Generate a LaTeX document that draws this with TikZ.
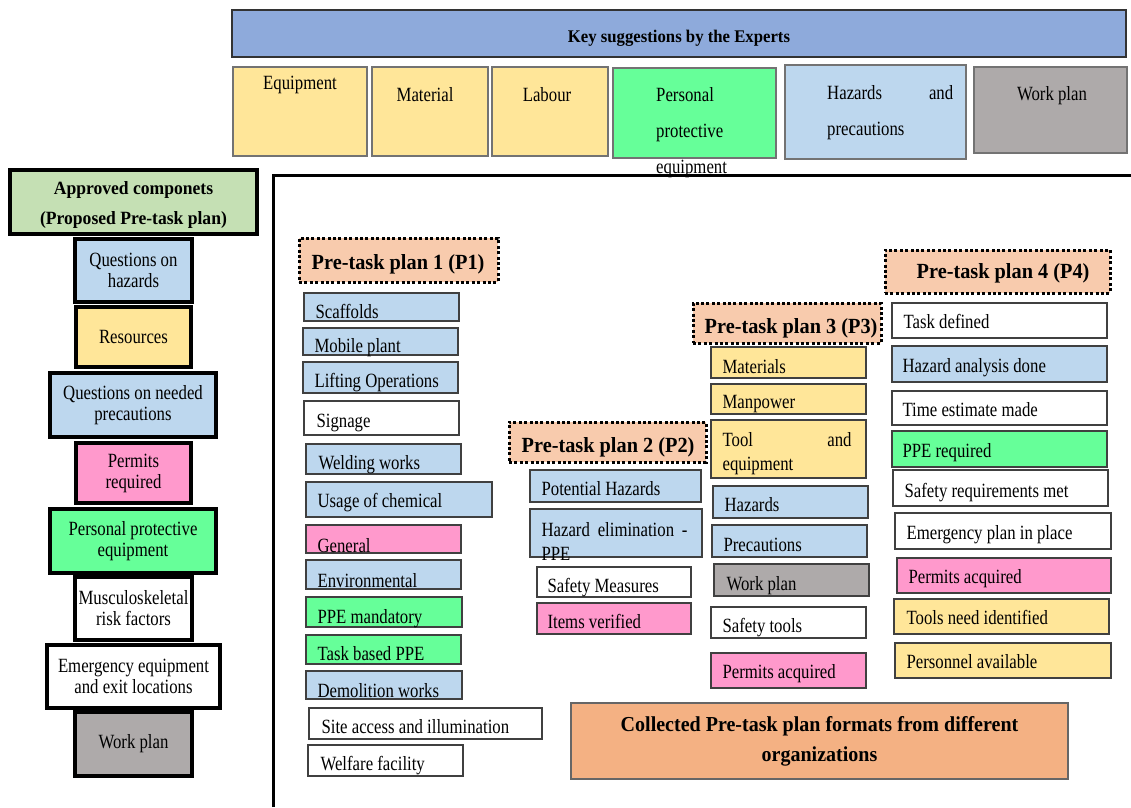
\documentclass[tikz,border=0pt]{standalone}
\usepackage{fontspec}
\setmainfont{Liberation Serif}[FakeStretch=0.83]
\newfontfamily\hdfont{Liberation Serif}[FakeStretch=0.94]
\usetikzlibrary{fit}
\definecolor{keyblue}{HTML}{8EAADB}
\definecolor{ylw}{HTML}{FFE699}
\definecolor{ppegreen}{HTML}{66FF99}
\definecolor{lblue}{HTML}{BDD7EE}
\definecolor{wpgray}{HTML}{AEAAAA}
\definecolor{lgreen}{HTML}{C5E0B4}
\definecolor{pinkc}{HTML}{FF99CC}
\definecolor{peach}{HTML}{F8CBAD}
\definecolor{orangec}{HTML}{F4B183}
\tikzset{
  cell/.style={draw=black!75, line width=1.3pt, inner sep=0pt},
  topbox/.style={draw=black!55, line width=1.5pt, inner sep=0pt},
  lbox/.style={draw=black, line width=4pt, inner sep=0pt},
  ltxt/.style={inner sep=0pt, align=center, font=\fontsize{20.2}{21}\selectfont},
  txt/.style={inner sep=0pt, font=\fontsize{20.2}{21}\selectfont},
  plan/.style={draw=black, line width=3pt, dash pattern=on 3pt off 2.4pt,
    fill=peach, inner sep=0pt},
  plantxt/.style={inner sep=0pt, font=\hdfont\bfseries\fontsize{21.6}{24}\selectfont},
}
\newcommand\cellbox[9]{%
  \node[cell, fill=#6, fit={(#2,#3) (#4,#5)}] (#1) {};
  \node[txt, anchor=base west] (#1-t) at ([xshift=#7pt, yshift=#8pt]#1.south west) {#9};}
\newcommand\planbox[8]{%
  \node[plan, fit={(#2,#3) (#4,#5)}] (#1) {};
  \node[plantxt, anchor=base west] (#1-t) at ([xshift=#6pt, yshift=#7pt]#1.south west) {#8};}
\newcommand\leftbox[6]{%
  \node[lbox, fill=#6, fit={(#2,#3) (#4,#5)}] (#1) {};}
\begin{document}
\begin{tikzpicture}[x=1pt,y=-1pt]
\fill[white] (0,0) rectangle (1131,807);
\useasboundingbox (0,0) rectangle (1131,807);

% ---------- top: key suggestions ----------
\node[topbox, draw=black!80, fill=keyblue, fit={(232,10) (1126,57)}] (key) {};
\node[inner sep=0pt, font=\hdfont\bfseries\fontsize{17.8}{20}\selectfont] (key-t) at ([yshift=-5pt]key.center) {Key suggestions by the Experts};

\node[topbox, fill=ylw, fit={(233,67) (367,156)}] (k1) {};
\node[txt, anchor=base] (k1-t) at (300,89) {Equipment};
\node[topbox, fill=ylw, fit={(372,67) (488,156)}] (k2) {};
\node[txt, anchor=base] (k2-t) at (425,101) {Material};
\node[topbox, fill=ylw, fit={(492,67) (608,156)}] (k3) {};
\node[txt, anchor=base] (k3-t) at (547,101) {Labour};
\node[topbox, fill=ppegreen, fit={(613,68) (776,158)}] (k4) {};
\node[txt, anchor=base west] (k4-a) at (656,101) {Personal};
\node[txt, anchor=base west] (k4-b) at (656,137) {protective};
\node[txt, anchor=base west] (k4-c) at (656,173) {equipment};
\node[topbox, fill=lblue, fit={(785,65) (966,159)}] (k5) {};
\node[txt, anchor=base west] (k5-a) at (827,99) {\makebox[126pt][s]{Hazards and}};
\node[txt, anchor=base west] (k5-b) at (827,135) {precautions};
\node[topbox, fill=wpgray, fit={(974,67) (1127,153)}] (k6) {};
\node[txt, anchor=base] (k6-t) at (1052,100) {Work plan};

% ---------- big frame ----------
\coordinate (fbl) at (273,807);
\coordinate (ftl) at (273,175);
\coordinate (ftr) at (1131,175);
\draw[line width=3pt] (fbl) -- (ftl) -- (ftr);

% ---------- left column ----------
\leftbox{ap}{10}{170}{257}{234}{lgreen}
\node[ltxt, font=\hdfont\bfseries\fontsize{18.7}{30}\selectfont] (ap-t) at ([yshift=-3pt]ap.center) {Approved componets\\(Proposed Pre-task plan)};
\leftbox{l1}{75}{239}{192}{302}{lblue}
\node[ltxt] (l1-t) at (l1.center) {Questions on\\hazards};
\leftbox{l2}{76}{307}{191}{367}{ylw}
\node[ltxt] (l2-t) at (l2.center) {Resources};
\leftbox{l3}{50}{373}{216}{437}{lblue}
\node[ltxt] (l3-t) at (l3.center) {Questions on needed\\precautions};
\leftbox{l4}{76}{443}{191}{503}{pinkc}
\node[ltxt] (l4-t) at (l4.center) {Permits\\required};
\leftbox{l5}{50}{509}{216}{573}{ppegreen}
\node[ltxt] (l5-t) at (l5.center) {Personal protective\\equipment};
\leftbox{l6}{75}{577}{192}{640}{white}
\node[ltxt] (l6-t) at (l6.center) {Musculoskeletal\\risk factors};
\leftbox{l7}{47}{645}{220}{708}{white}
\node[ltxt] (l7-t) at (l7.center) {Emergency equipment\\and exit locations};
\leftbox{l8}{75}{712}{192}{776}{wpgray}
\node[ltxt] (l8-t) at (l8.center) {Work plan};

% ---------- Pre-task plan 1 ----------
\planbox{p1}{299}{238}{498}{282}{14}{14}{Pre-task plan 1 (P1)}
\cellbox{a1}{304}{293}{459}{321}{lblue}{12}{3}{Scaffolds}
\cellbox{a2}{303}{328}{458}{355}{lblue}{12}{3}{Mobile plant}
\cellbox{a3}{303}{362}{458}{393}{lblue}{12}{6}{Lifting Operations}
\cellbox{a4}{304}{401}{459}{435}{white}{13}{8}{Signage}
\cellbox{a5}{306}{444}{461}{474}{lblue}{13}{5}{Welding works}
\cellbox{a6}{306}{482}{492}{517}{lblue}{12}{10}{Usage of chemical}
\cellbox{a7}{306}{525}{461}{553}{pinkc}{12}{1}{General}
\cellbox{a8}{306}{560}{461}{589}{lblue}{12}{2}{Environmental}
\cellbox{a9}{306}{597}{462}{627}{ppegreen}{12}{4}{PPE mandatory}
\cellbox{a10}{306}{635}{461}{664}{ppegreen}{12}{4}{Task based PPE}
\cellbox{a11}{306}{671}{462}{699}{lblue}{12}{2}{Demolition works}
\cellbox{a12}{309}{708}{542}{739}{white}{13}{6}{Site access and illumination}
\cellbox{a13}{308}{745}{463}{776}{white}{13}{6}{Welfare facility}

% ---------- Pre-task plan 2 ----------
\planbox{p2}{509}{422}{706}{462}{14}{11}{Pre-task plan 2 (P2)}
\cellbox{b1}{530}{470}{701}{502}{lblue}{12}{7}{Potential Hazards}
\cellbox{b2}{530}{509}{702}{557}{lblue}{12}{21}{\makebox[146pt][s]{Hazard elimination -}}
\node[txt, anchor=base west] (b2-u) at ([xshift=12pt, yshift=-3pt]b2.south west) {PPE};
\cellbox{b3}{537}{567}{691}{597}{white}{11}{5}{Safety Measures}
\cellbox{b4}{537}{603}{691}{634}{pinkc}{11}{6}{Items verified}

% ---------- Pre-task plan 3 ----------
\planbox{p3}{693}{303}{881}{343}{13}{11}{Pre-task plan 3 (P3)}
\cellbox{c1}{711}{347}{866}{378}{ylw}{12}{5}{Materials}
\cellbox{c2}{711}{384}{866}{414}{ylw}{12}{6}{Manpower}
\cellbox{c3}{711}{420}{866}{478}{ylw}{12}{32}{\makebox[129pt][s]{Tool and}}
\node[txt, anchor=base west] (c3-u) at ([xshift=12pt, yshift=8pt]c3.south west) {equipment};
\cellbox{c4}{713}{486}{868}{518}{lblue}{12}{7}{Hazards}
\cellbox{c5}{712}{525}{867}{557}{lblue}{12}{6}{Precautions}
\cellbox{c6}{714}{564}{869}{596}{wpgray}{13}{6}{Work plan}
\cellbox{c7}{711}{607}{866}{638}{white}{12}{6}{Safety tools}
\cellbox{c8}{711}{653}{866}{688}{pinkc}{12}{10}{Permits acquired}

% ---------- Pre-task plan 4 ----------
\planbox{p4}{885}{250}{1110}{293}{33}{16}{Pre-task plan 4 (P4)}
\cellbox{d1}{892}{303}{1107}{338}{white}{12}{10}{Task defined}
\cellbox{d2}{892}{346}{1107}{382}{lblue}{11}{10}{Hazard analysis done}
\cellbox{d3}{892}{391}{1107}{425}{white}{11}{9}{Time estimate made}
\cellbox{d4}{892}{431}{1107}{467}{ppegreen}{11}{10}{PPE required}
\cellbox{d5}{893}{470}{1108}{506}{white}{12}{9}{Safety requirements met}
\cellbox{d6}{895}{513}{1111}{549}{white}{12}{10}{Emergency plan in place}
\cellbox{d7}{897}{558}{1111}{593}{pinkc}{12}{10}{Permits acquired}
\cellbox{d8}{894}{599}{1109}{634}{ylw}{13}{10}{Tools need identified}
\cellbox{d9}{895}{643}{1111}{678}{ylw}{12}{10}{Personnel available}

% ---------- bottom box ----------
\node[cell, draw=black!60, fill=orangec, fit={(571,703) (1068,779)}] (coll) {};
\node[ltxt, font=\hdfont\bfseries\fontsize{21.3}{30}\selectfont] (coll-t) at (coll.center)
  {Collected Pre-task plan formats from different\\organizations};
\end{tikzpicture}
\end{document}
